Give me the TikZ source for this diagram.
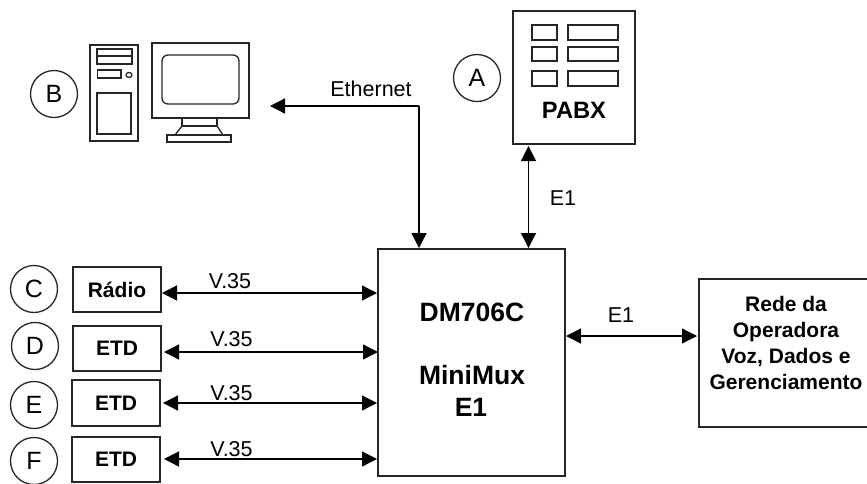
\documentclass[tikz,border=0pt]{standalone}
\usepackage{fontspec}
\setmainfont{Liberation Sans}
\usetikzlibrary{arrows.meta}
\newcommand{\dn}[2]{\raisebox{-#1pt}{#2}}
\tikzset{
 x=1pt,y=-1pt,
 ln/.style={draw=black!85,line width=1.3pt},
 tag/.style={circle,ln,minimum size=47pt,inner sep=0pt,font=\fontsize{25}{25}\selectfont},
 unit/.style={rectangle,ln,inner sep=0pt,font=\fontsize{21}{21}\bfseries\selectfont},
 lbl/.style={inner sep=0pt,font=\fontsize{21.5}{21.5}\selectfont},
 big/.style={inner sep=0pt,font=\fontsize{26.5}{26.5}\bfseries\selectfont},
 link/.style={draw=black,line width=1.3pt,{Triangle[length=15pt,width=15pt]}-{Triangle[length=15pt,width=15pt]}},
 linkone/.style={draw=black,line width=1.3pt,-{Triangle[length=15pt,width=15pt]}},
}
\begin{document}
\begin{tikzpicture}
\useasboundingbox (0,0) rectangle (867,483);
% PC
\draw[ln] (90,45) rectangle (138,141);
\draw[ln] (97,49) rectangle (132,64) (97,56) -- (132,56);
\draw[ln] (97.5,70) rectangle (121,78);
\draw[ln] (129,75) ellipse (3 and 2.5);
\draw[ln] (97,93) rectangle (131,134);
\draw[ln] (152,43) rectangle (249,118);
\draw[ln,rounded corners=6pt] (162,55) rectangle (239,104);
\draw[ln] (182,118) rectangle (217,126);
\draw[ln] (182,126) -- (175,135) (217,126) -- (223,135);
\draw[ln] (167,135) rectangle (231,142);
\node[tag] (B) at (54,94) {\dn{3}{B}};
\coordinate (ethA) at (270,106);
\coordinate (ethB) at (419,106);
% PABX
\node[tag] (A) at (477,78) {A};
\node[unit,minimum width=122pt,minimum height=133pt] (pabx) at (574,77.5) {};
\foreach \y/\h in {25/40,47/61,71/86}{
 \draw[ln] (532,\y) rectangle (557,\h);
 \draw[ln] (568,\y) rectangle (618,\h);
}
\node[inner sep=0pt,font=\fontsize{23.7}{23.7}\bfseries\selectfont] (pabxl) at (574,110) {PABX};
% main
\node[unit,minimum width=187pt,minimum height=227pt] (mux) at (471.5,362.5) {};
\node[big] (t1) at (472,312) {DM706C};
\node[big] (t2) at (472,375) {MiniMux};
\node[big] (t3) at (471,407) {E1};
% network
\node[unit,minimum width=171pt,minimum height=148pt] (net) at (784.5,353) {};
\node[align=center,inner sep=0pt,font=\fontsize{21}{26}\bfseries\selectfont] (nett) at (786,343) {Rede da\\Operadora\\Voz, Dados e\\Gerenciamento};
% rows
\node[tag] (C) at (34,289) {\dn{2}{C}};
\node[tag] (D) at (35,346) {\dn{1}{D}};
\node[tag] (E) at (34,405) {\dn{2}{E}};
\node[tag] (F) at (34,461) {F};
\node[unit,minimum width=88pt,minimum height=45pt] (r1) at (117,289.5) {\dn{1}{Rádio}};
\node[unit,minimum width=88pt,minimum height=45pt] (r2) at (117,348.5) {ETD};
\node[unit,minimum width=88pt,minimum height=46pt] (r3) at (116,403) {\dn{1}{ETD}};
\node[unit,minimum width=88pt,minimum height=45pt] (r4) at (116,459.5) {\dn{1.5}{ETD}};
\foreach \n/\y/\ly/\lx/\xa/\xb in {a/293/281/230/162/377,b/352/339/231.5/164/378,c/403/393/231.5/163/377,d/459/449/231.5/164/377}{
 \coordinate (p\n) at (\xa,\y);
 \coordinate (q\n) at (\xb,\y);
 \draw[link] (p\n) -- (q\n);
 \node[lbl] (l\n) at (\lx,\ly) {V.35};
}
% connectors
\coordinate (eth1) at (419,248);
\draw[linkone] (ethB) -- (ethA);
\draw[linkone] (ethB) -- (eth1);
\node[lbl] (ethl) at (371,89) {Ethernet};
\coordinate (e1a) at (528.5,146);
\coordinate (e1b) at (528.5,248);
\draw[link] (e1a) -- (e1b);
\node[lbl] (e1l) at (563,198) {E1};
\coordinate (e2a) at (566,336);
\coordinate (e2b) at (697,336);
\draw[link] (e2a) -- (e2b);
\node[lbl] (e2l) at (621,315) {E1};
\end{tikzpicture}
\end{document}
